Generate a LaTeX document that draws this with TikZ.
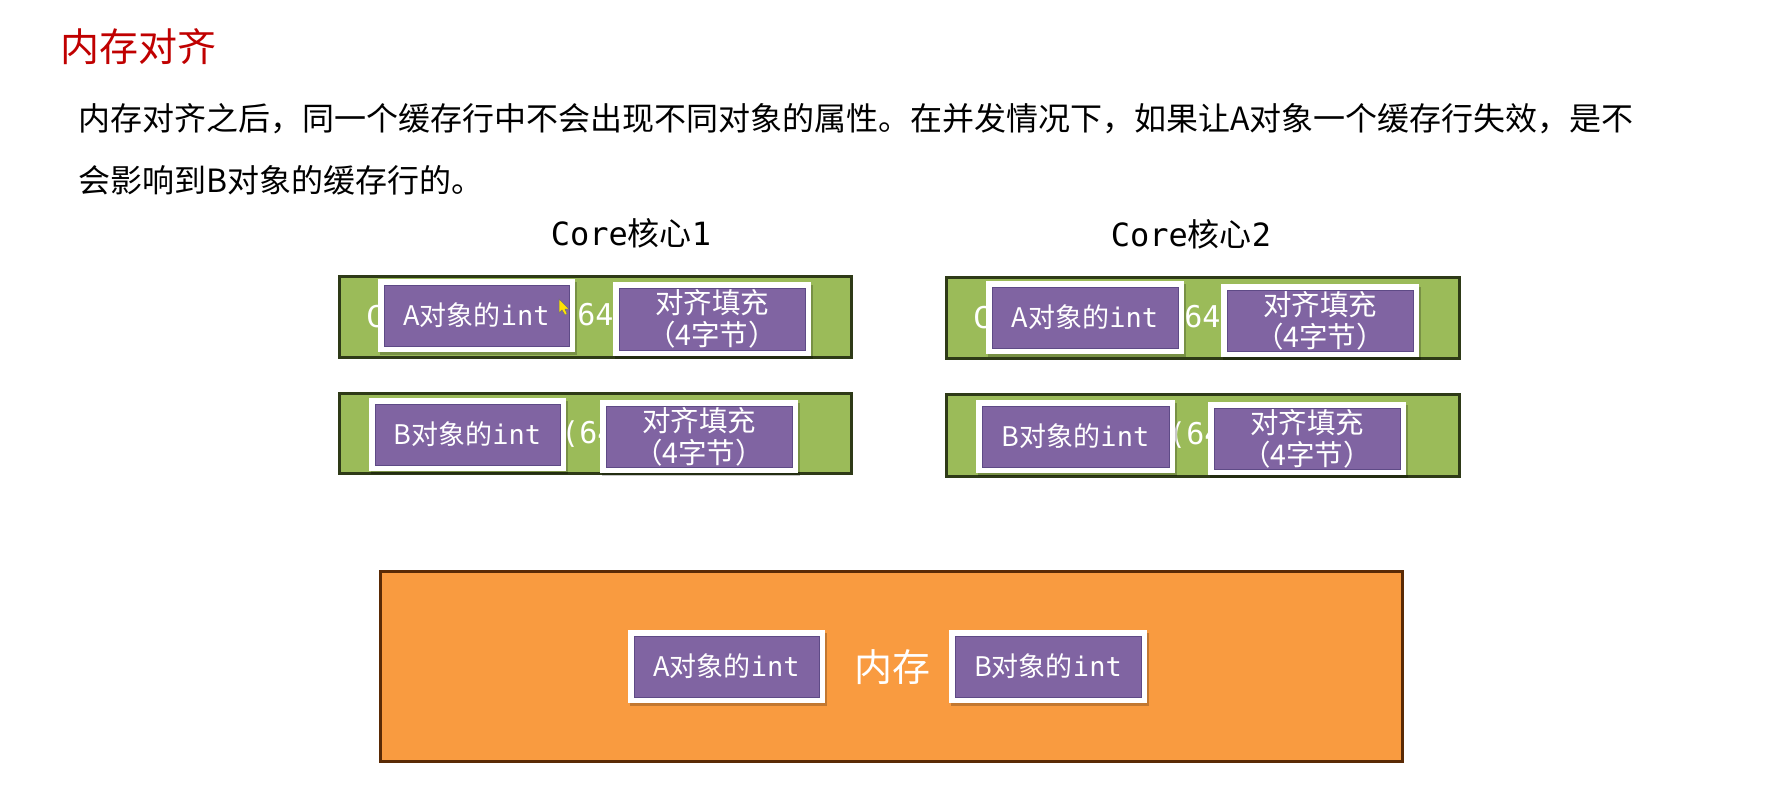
\documentclass[tikz,border=0pt]{standalone}
\usepackage{fontspec}
\setmainfont{Noto Sans CJK SC}
\newfontfamily\mono{DejaVu Sans Mono}
\usetikzlibrary{shadows}
\definecolor{barg}{HTML}{9BBB59}
\definecolor{bard}{HTML}{2E3A17}
\definecolor{purp}{HTML}{8064A2}
\definecolor{purpd}{HTML}{5E4A86}
\definecolor{orng}{HTML}{F99B40}
\definecolor{orngd}{HTML}{5A2A05}
\definecolor{ttl}{HTML}{C00000}
\newcommand\fsz[1]{\fontsize{#1}{#1}\selectfont}
\begin{document}
\begin{tikzpicture}[x=1pt,y=-1pt,
 rect/.style n args={4}{at={({(#1+#3)/2},{(#2+#4)/2})}, minimum width={(#3-#1)*1pt}, minimum height={(#4-#2)*1pt}},
 bar/.style={fill=barg, draw=bard, line width=3pt, inner sep=0pt},
 mem/.style={fill=orng, draw=orngd, line width=3pt, inner sep=0pt},
 card/.style={fill=white, inner sep=0pt, text=white,
   drop shadow={opacity=0.22, shadow xshift=1.5pt, shadow yshift=-3pt, fill=black},
   path picture={\draw[fill=purp, draw=purpd, line width=1pt] ([shift={(6pt,6pt)}]path picture bounding box.south west) rectangle ([shift={(-6pt,-6pt)}]path picture bounding box.north east);}},
 inttxt/.style={font=\fsz{27}},
 padtxt/.style={font=\fontsize{28.5}{32}\selectfont, align=center},
 bartxt/.style={font=\mono\fsz{30}, text=white, inner sep=0pt, anchor=west},
 plain/.style={inner sep=0pt, anchor=west},
]
\useasboundingbox[fill=white] (0,0) rectangle (1765,807);

\node[plain, font=\fsz{39}, text=ttl] (title) at (60,47) {内存对齐};
\node[plain, font=\fsz{32}] (p1) at (78,119) {内存对齐之后，同一个缓存行中不会出现不同对象的属性。在并发情况下，如果让A对象一个缓存行失效，是不};
\node[plain, font=\fsz{32}] (p2) at (78,180) {会影响到B对象的缓存行的。};

\node[font=\fsz{32}, inner sep=0pt] (core1) at (631,233) {{\mono Core}核心{\mono 1}};
\node[font=\fsz{32}, inner sep=0pt] (core2) at (1191,234) {{\mono Core}核心{\mono 2}};

% left core
\node[bar, rect={339}{276}{851}{357}] (lbar1) {};
\node[bartxt] (lt1c) at (366,316.5) {C};
\node[bartxt] (lt1n) at (559,316.5) {(64};
\node[bar, rect={339}{393}{851}{473}] (lbar2) {};
\node[bartxt] (lt2n) at (561,434) {(64};

\node[card, inttxt, rect={378}{279}{575}{352}] (la) {A对象的{\mono int}};
\node[card, padtxt, rect={613}{282}{811}{356}] (lpa) {对齐填充\\（4字节）};
\node[card, inttxt, rect={369}{398}{566}{471}] (lb) {B对象的{\mono int}};
\node[card, padtxt, rect={600}{400}{798}{473}] (lpb) {对齐填充\\（4字节）};

% right core
\node[bar, rect={946}{277}{1459}{358}] (rbar1) {};
\node[bartxt] (rt1c) at (973,318) {C};
\node[bartxt] (rt1n) at (1166,318) {(64};
\node[bar, rect={946}{394}{1459}{476}] (rbar2) {};
\node[bartxt] (rt2n) at (1168,435) {(64};

\node[card, inttxt, rect={986}{281}{1184}{354}] (ra) {A对象的{\mono int}};
\node[card, padtxt, rect={1221}{284}{1419}{357}] (rpa) {对齐填充\\（4字节）};
\node[card, inttxt, rect={976}{400}{1175}{473}] (rb) {B对象的{\mono int}};
\node[card, padtxt, rect={1208}{402}{1406}{475}] (rpb) {对齐填充\\（4字节）};

% memory
\node[mem, rect={380}{571}{1402}{761}] (memory) {};
\node[font=\fsz{38}, text=white, inner sep=0pt] (memtxt) at (892,667) {内存};
\node[card, inttxt, rect={628}{630}{825}{703}] (ma) {A对象的{\mono int}};
\node[card, inttxt, rect={949}{630}{1147}{703}] (mb) {B对象的{\mono int}};

% mouse pointer
\filldraw[fill=yellow!85!orange, draw=black!55, line width=0.5pt] (559,299) -- (559,313) -- (562,310) -- (565,315) -- (567,314) -- (565,309) -- (569,309) -- cycle;
\end{tikzpicture}
\end{document}
